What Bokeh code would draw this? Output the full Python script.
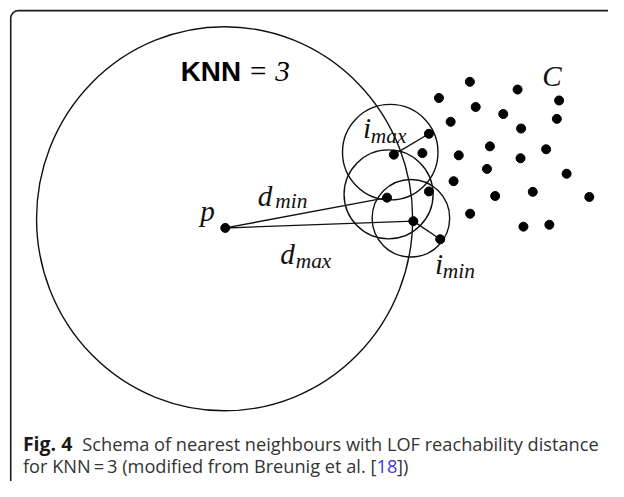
import numpy as np
from bokeh.plotting import figure
from bokeh.models import Range1d
from bokeh.core.properties import value
from bokeh.embed import file_html
from bokeh.resources import INLINE

# ---- data (reference-image pixel coordinates) ----
point_p = (230.7, 235.0)
cluster_x = [481.7, 530.7, 450.0, 573.3, 487.7, 516.0, 571.0, 462.0, 534.3, 439.7,
             502.3, 560.0, 403.7, 433.0, 470.3, 533.7, 499.3, 581.0, 465.0, 439.7,
             546.3, 396.7, 507.7, 604.3, 482.0, 423.7, 536.7, 563.3, 451.3]
cluster_y = [84.0, 92.0, 100.7, 103.3, 110.0, 117.3, 122.3, 125.3, 132.3, 137.7,
             150.7, 153.7, 159.3, 157.7, 160.0, 163.0, 174.0, 179.0, 186.7, 197.3,
             197.7, 203.7, 202.0, 203.0, 220.3, 228.0, 233.7, 231.7, 246.7]

# segments: start x, start y, end x, end y
seg_x0 = [230.7, 230.7, 423.7, 403.7]
seg_y0 = [235.0, 235.0, 228.0, 159.3]
seg_x1 = [396.7, 423.7, 451.3, 439.7]
seg_y1 = [203.7, 228.0, 246.7, 137.7]

# neighbourhood circles
nb_x = [400.0, 398.3, 421.2]
nb_y = [156.7, 200.3, 225.0]
nb_r = [49.0, 45.7, 39.8]

# big KNN neighbourhood (ellipse)
big_cx, big_cy, big_w, big_h = 230.0, 225.5, 386.0, 397.0

# italic math labels
lab_text = ["p", "d", "d", "i", "i", "C"]
lab_x = [205.0, 264.0, 287.0, 372.0, 446.0, 556.0]
lab_y = [217.0, 202.0, 262.0, 132.0, 272.0, 78.0]
sub_text = ["min", "max", "max", "min"]
sub_x = [282.0, 303.0, 380.0, 454.0]
sub_y = [207.0, 269.0, 140.0, 280.0]

caption_bold = "Fig. 4"
caption_line1 = "Schema of nearest neighbours with LOF reachability distance"
caption_line2 = "for KNN\u2009=\u20093 (modified from Breunig et al. ["
caption_ref = "18"
caption_end = "])"

REF_W, REF_H = 624, 497
W, H = 608, 481
k = W / REF_W  # screen px per reference px
fs = lambda px: f"{px * k:.1f}px"

p = figure(width=W, height=H, output_backend="svg", toolbar_location=None,
           x_range=Range1d(0, REF_W), y_range=Range1d(REF_H, 0),
           min_border=0, outline_line_color=None)
p.axis.visible = False
p.grid.visible = False
p.background_fill_color = "white"
p.border_fill_color = "white"

# rounded frame (top-left corner, continues off page)
r = 8.0
t = np.linspace(np.pi, 1.5 * np.pi, 20)
fx = np.concatenate([[10.5], 10.5 + r + r * np.cos(t), [800]])
fy = np.concatenate([[800], 10.5 + r + r * np.sin(t), [10.5]])
p.line(fx, fy, line_color="#1a1a1a", line_width=1.6)

ink = "#111111"
# big ellipse
p.ellipse(x=[big_cx], y=[big_cy], width=[big_w], height=[big_h],
          fill_color=None, line_color=ink, line_width=1.4)

# neighbourhood circles
p.circle(x=nb_x, y=nb_y, radius=nb_r, fill_color=None,
         line_color=ink, line_width=1.4)

# segments
p.segment(x0=seg_x0, y0=seg_y0, x1=seg_x1, y1=seg_y1,
          line_color=ink, line_width=1.4)

# points
p.scatter(x=cluster_x, y=cluster_y, size=9, marker="circle",
          fill_color="black", line_color="black")
p.scatter(x=[point_p[0]], y=[point_p[1]], size=9, marker="circle",
          fill_color="black", line_color="black")

serif = value("Liberation Serif")
p.text(x=lab_x, y=lab_y, text=lab_text, text_font=serif, text_font_style="italic",
       text_font_size=fs(30), text_baseline="alphabetic", text_align="left",
       text_color=ink)
p.text(x=sub_x, y=sub_y, text=sub_text, text_font=serif, text_font_style="italic",
       text_font_size=fs(22), text_baseline="alphabetic", text_align="left",
       text_color=ink)

# KNN = 3
p.text(x=[185], y=[73], text=["KNN"], text_font=value("Liberation Sans"),
       text_font_style="bold", text_font_size=fs(28.5), text_baseline="alphabetic",
       text_color="black")
p.text(x=[256], y=[73], text=["="], text_font=serif, text_font_size=fs(30),
       text_baseline="alphabetic", text_color="black")
p.text(x=[282], y=[73], text=["3"], text_font=serif, text_font_style="italic",
       text_font_size=fs(30), text_baseline="alphabetic", text_color="black")

# caption
sans = value("Open Sans")
cap = 18.7
p.text(x=[23], y=[458], text=[caption_bold], text_font=sans, text_font_style="bold",
       text_font_size=fs(20), text_baseline="alphabetic", text_color="#1a1a1a")
p.text(x=[84], y=[458], text=[caption_line1], text_font=sans,
       text_font_size=fs(cap), text_baseline="alphabetic", text_color="#333333")
p.text(x=[23], y=[481], text=[caption_line2], text_font=sans,
       text_font_size=fs(cap), text_baseline="alphabetic", text_color="#333333")
p.text(x=[386], y=[481], text=[caption_ref], text_font=sans,
       text_font_size=fs(cap), text_baseline="alphabetic", text_color="#3b3bd6")
p.text(x=[407], y=[481], text=[caption_end], text_font=sans,
       text_font_size=fs(cap), text_baseline="alphabetic", text_color="#333333")

open("out.html", "w").write(file_html(p, INLINE))
